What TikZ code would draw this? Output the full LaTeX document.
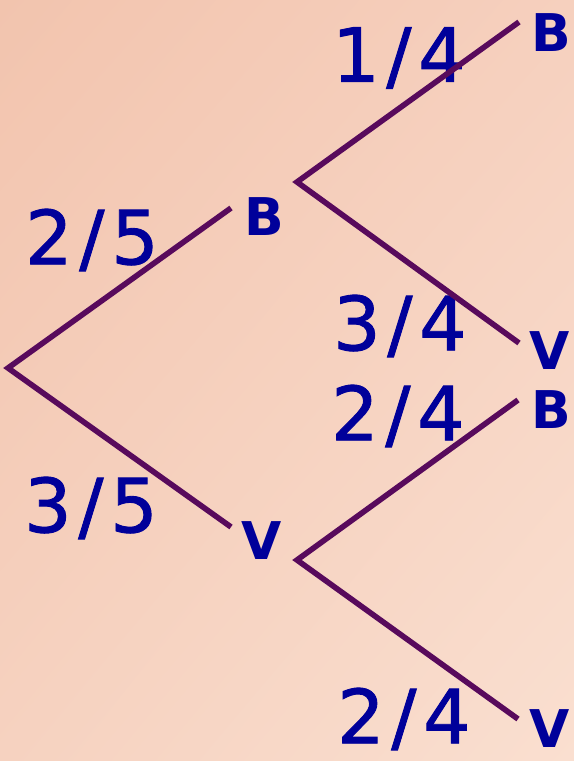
\documentclass[tikz,border=0pt]{standalone}
\usepackage{fontspec}
\setmainfont{DejaVu Sans}
\newfontfamily\fracfont[LetterSpace=9, FakeBold=1.2]{DejaVu Sans}
\usepackage{xcolor}
\usetikzlibrary{positioning, shadings}

\definecolor{branchpurple}{RGB}{88,10,92}
\definecolor{labelblue}{RGB}{0,0,154}
\definecolor{bgtl}{RGB}{242,196,174}
\definecolor{bgtr}{RGB}{246,208,190}
\definecolor{bgbl}{RGB}{246,210,192}
\definecolor{bgbr}{RGB}{250,223,208}

\begin{document}
\begin{tikzpicture}[
    x=0.75pt, y=-0.75pt,
    branch/.style={draw=branchpurple, line width=4.2pt},
    prob/.style={text=labelblue, font=\fracfont\fontsize{56}{60}\selectfont, inner sep=0pt},
    outcome/.style={text=labelblue, font=\bfseries\fontsize{39}{44}\selectfont, inner sep=0pt}
]
\useasboundingbox (0,0) rectangle (574,761);
\shade[upper left=bgtl, upper right=bgtr, lower left=bgbl, lower right=bgbr]
    (0,0) rectangle (574,761);

% branch points
\coordinate (root) at (8,368);
\coordinate (b) at (231,208);
\coordinate (v) at (231,527);
\coordinate (bstart) at (297,182);
\coordinate (vstart) at (297,560);
\coordinate (bb) at (519,22);
\coordinate (bv) at (519,343);
\coordinate (vb) at (518,400);
\coordinate (vv) at (518,719);

% outcomes
\node[outcome] (lblb) at (264,217) {B};
\node[outcome] (lblv) at (262,541) {V};
\node[outcome] (lblbb) at (551,33) {B};
\node[outcome] (lblbv) at (550,351) {V};
\node[outcome] (lblvb) at (551,410) {B};
\node[outcome] (lblvv) at (550,729) {V};

% probabilities
\node[prob] (p25) at (92,240) {2/5};
\node[prob] (p35) at (91,508) {3/5};
\node[prob] (p14) at (399,58) {1/4};
\node[prob] (p34) at (400,326) {3/4};
\node[prob] (p24a) at (398,416) {2/4};
\node[prob] (p24b) at (404,719) {2/4};

\draw[branch] (b) -- (root) -- (v);
\draw[branch] (bb) -- (bstart) -- (bv);
\draw[branch] (vb) -- (vstart) -- (vv);
\end{tikzpicture}
\end{document}
